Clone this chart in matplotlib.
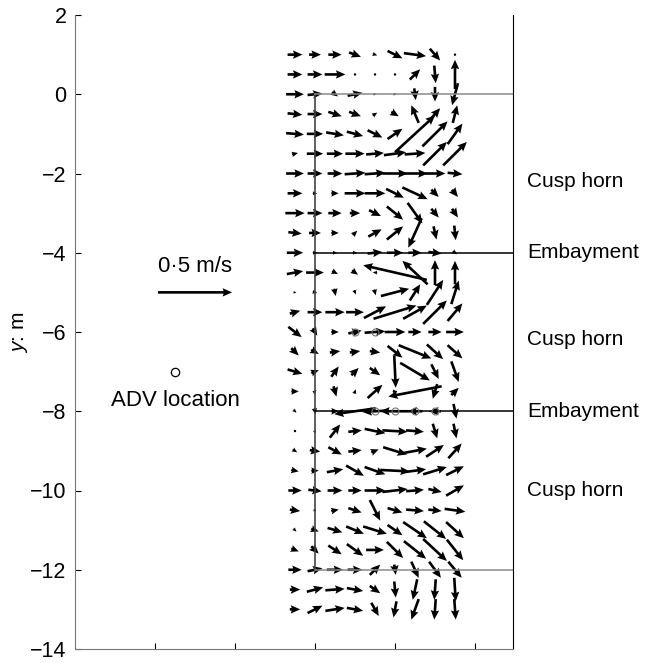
import numpy as np
import matplotlib.pyplot as plt

plt.rcParams['font.family'] = ['Liberation Sans', 'DejaVu Sans']
plt.rcParams['mathtext.fontset'] = 'custom'
plt.rcParams['mathtext.it'] = 'Liberation Sans:italic'
plt.rcParams['mathtext.rm'] = 'Liberation Sans'

# measurement grid (m)
x_grid = [5.5, 6.0, 6.5, 7.0, 7.5, 8.0, 8.5, 9.0, 9.5]
y_grid = [1.0, 0.5, 0.0, -0.5, -1.0, -1.5, -2.0, -2.5, -3.0, -3.5,
          -4.0, -4.5, -5.0, -5.5, -6.0, -6.5, -7.0, -7.5, -8.0, -8.5,
          -9.0, -9.5, -10.0, -10.5, -11.0, -11.5, -12.0, -12.5, -13.0]

# velocities in cm/s, one row per y_grid value
u_cm = [
    [10, 8, 9, 8, 3, 10, 15, 7, 1],
    [10, 10, 14, 1, 1, 1, 7, 1, 0],
    [12, 10, 4, 10, 2, 2, 1, 0, -4],
    [10, 10, 9, 8, 3, 5, -5, 7, 3],
    [12, 11, 12, 11, 10, 10, 27, 17, 10],
    [4, 11, 11, 13, 12, 15, 14, 16, 16],
    [12, 10, 10, 14, 14, 17, 17, 14, 10],
    [10, 3, 5, 14, 14, 12, 17, 5, 4],
    [13, 10, 9, 7, 8, 11, 10, 5, 4],
    [9, 8, 5, 3, 9, 11, -9, 2, 1],
    [11, 3, 3, 3, 10, 11, 9, 9, 3],
    [11, 12, 4, 4, -3, -43, -17, 0, 0],
    [2, 3, 1, 1, 1, 19, 7, 11, 5],
    [7, 10, 13, 12, 15, 29, 16, 16, 10],
    [9, 3, 5, 9, 14, 14, 9, 9, 12],
    [5, 5, 7, 7, 7, 10, 22, 11, 10],
    [10, 5, 5, 5, 7, 1, 20, 5, 5],
    [5, 2, 2, 1, 10, 3, -36, -3, 5],
    [2, 1, 5, -28, -17, -20, -10, -8, 2],
    [1, 1, 7, 9, 14, 17, 12, 3, 2],
    [3, 7, 9, 9, 5, 16, 16, 12, 9],
    [5, 5, 11, 12, 14, 20, 15, 16, 12],
    [9, 9, 10, 9, 14, 17, 12, 9, 12],
    [7, 2, 5, 9, 7, 10, 12, 9, 14],
    [2, 5, 10, 12, 16, 10, 16, 15, 12],
    [5, 5, 9, 11, 12, 11, 15, 16, 11],
    [9, 10, 11, 10, 7, 1, 5, 8, 9],
    [7, 11, 13, 11, 7, 1, -3, -1, 1],
    [7, 10, 13, 11, 5, -2, -5, -1, 1],
]
v_cm = [
    [0, 0, 0, -3, -1, -5, -2, -8, -1],
    [0, 0, 0, 0, 0, 0, 7, -12, 20],
    [0, 1, -3, 2, 0, 0, -8, -10, -15],
    [-1, 0, -3, -3, 2, -3, 12, 8, 12],
    [-1, 0, -2, -3, -5, 7, 25, 17, 14],
    [1, 0, 0, 0, 1, 2, 1, 16, 16],
    [0, 0, 0, 1, 1, 0, 0, 0, -1],
    [0, 0, 0, 0, 0, -6, -8, -5, -5],
    [0, 0, 0, 0, -4, -9, -14, -6, -6],
    [-1, 0, 0, 3, 5, 9, -20, -9, -10],
    [0, 0, 0, 0, 1, 0, 0, -1, -2],
    [2, 0, -2, -3, 0, 10, 16, 17, 16],
    [0, -1, -5, -3, -4, 5, 11, 17, 16],
    [2, 0, 0, 0, 8, 9, 9, 16, 12],
    [-7, -5, 0, 2, 1, 0, 0, 0, 0],
    [-5, -3, 1, 1, -1, -8, -9, -10, -9],
    [-3, 2, 7, 5, -5, -22, -12, -10, -14],
    [0, 2, -7, 3, 9, 0, -7, -10, 5],
    [-2, -4, 0, -4, -1, 0, 0, 0, -10],
    [-1, 2, 9, 1, -3, -1, -1, -10, -10],
    [-2, -1, -5, 1, 2, -5, 3, 8, 10],
    [-1, 0, 2, -7, -5, -1, 2, 5, 6],
    [0, -1, 0, 0, 0, 2, 1, -2, 7],
    [-1, 0, 1, -3, -14, -3, -1, -1, -2],
    [-2, -2, -3, -5, -5, -7, -11, -12, -11],
    [-2, -5, -6, -8, 0, -11, -12, -15, -14],
    [0, 2, 0, 0, 7, -7, -11, -11, -11],
    [0, 3, 1, -2, -5, -11, -14, -14, -16],
    [0, 5, 2, -2, -9, -11, -14, -14, -14],
]

# cusp zone boundaries and labels
boundary_x = 6.0
boundary_y = [0, -4, -8, -12]
boundary_col = ['#8a8a8a', 'black', 'black', '#8a8a8a']
zone_labels = ['Cusp horn', 'Embayment', 'Cusp horn', 'Embayment', 'Cusp horn']
zone_label_y = [-2.2, -4.0, -6.2, -8.0, -10.0]

# ADV and small sensor markers
adv_x, adv_y = 2.5, -7.0
sensor_x = [7.0, 7.5, 7.5, 8.0, 8.5, 9.0]
sensor_y = [-6.0, -6.0, -8.0, -8.0, -8.0, -8.0]

X, Y = np.meshgrid(x_grid, y_grid)
U = np.array(u_cm) / 100.0
V = np.array(v_cm) / 100.0

fig = plt.figure(figsize=(6.56, 6.63), dpi=100)
ax = fig.add_axes([75 / 656, 14 / 663, 438 / 656, 634 / 663])

q = ax.quiver(X, Y, U, V, angles='xy', scale_units='xy', scale=0.27,
              pivot='middle', color='black', width=0.006,
              headwidth=3.2, headlength=3.6, headaxislength=3.2)
ax.quiverkey(q, 3.0, -5.0, 0.5, '0·5 m/s', coordinates='data',
             labelpos='N', labelsep=0.15, fontproperties={'size': 16})

# boundaries
ax.plot([boundary_x, boundary_x], [0, -12], color='#444444', lw=1.2)
for yb, c in zip(boundary_y, boundary_col):
    ax.plot([boundary_x, 10.95], [yb, yb], color=c, lw=1.1)

for lab, yl in zip(zone_labels, zone_label_y):
    ax.text(11.3, yl, lab, fontsize=15, va='center', ha='left', clip_on=False)

ax.plot(adv_x, adv_y, 'o', mfc='white', mec='black', ms=6, mew=0.9)
ax.text(adv_x, adv_y - 0.72, 'ADV location', fontsize=16, ha='center', va='center')
ax.plot(sensor_x, sensor_y, 'o', mfc='none', mec='#777777', ms=5, mew=0.8)

ax.set_xlim(0, 10.95)
ax.set_ylim(-14, 2)
ax.set_yticks(range(-14, 3, 2))
ax.set_xticks([2, 4, 6, 8, 10])
ax.set_xticklabels([])
ax.tick_params(direction='in', length=4, labelsize=15.5, width=0.8)
ax.tick_params(axis='y', pad=6)
ax.spines['top'].set_visible(False)
ax.spines['left'].set_color('#777777')
ax.spines['bottom'].set_color('#777777')
ax.set_ylabel(r'$\it{y}$: m', fontsize=15, labelpad=0)

fig.savefig('out.png', dpi=100)
